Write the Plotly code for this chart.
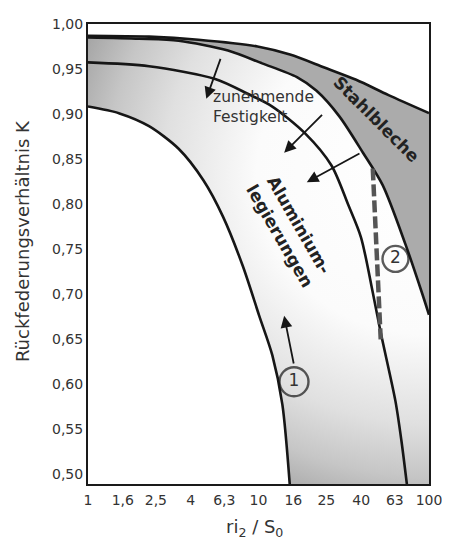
import numpy as np
import plotly.graph_objects as go

# ---------------- data ----------------
x_ticks = [1, 1.6, 2.5, 4, 6.3, 10, 16, 25, 40, 63, 100]
x_tick_labels = ["1", "1,6", "2,5", "4", "6,3", "10", "16", "25", "40", "63", "100"]
y_ticks = [0.50, 0.55, 0.60, 0.65, 0.70, 0.75, 0.80, 0.85, 0.90, 0.95, 1.00]

# Stahlbleche band
steel_upper_x = [1, 2.28, 4.44, 9.87, 15.3, 24.1, 37.4, 57.9, 100]
steel_upper_y = [0.987, 0.986, 0.9825, 0.975, 0.966, 0.952, 0.938, 0.921, 0.901]
steel_lower_x = [1, 2.0, 3.4, 6.62, 10.5, 16.8, 21.9, 29.8, 41.0, 53.5, 72.7, 91.1, 100]
steel_lower_y = [0.985, 0.9836, 0.9814, 0.9705, 0.9563, 0.941, 0.9258, 0.8974,
                 0.857, 0.821, 0.7555, 0.7009, 0.677]

# Aluminium band
alu_upper_x = [1, 2.28, 5.57, 8.64, 12.05, 18.7, 26.8, 33.6, 39.9, 46.9, 52.1, 63.6, 68.9, 74.6]
alu_upper_y = [0.9574, 0.9531, 0.9389, 0.9225, 0.9083, 0.8788, 0.8428, 0.7991,
               0.7631, 0.7009, 0.6572, 0.5808, 0.5371, 0.485]
alu_lower_x = [1, 1.53, 2.28, 3.40, 4.75, 6.19, 8.08, 10.1, 12.05, 13.8, 15.3]
alu_lower_y = [0.9083, 0.9007, 0.8865, 0.8614, 0.8264, 0.786, 0.7314, 0.6758,
               0.6321, 0.5775, 0.485]

# marker line (2) and numbered circles
dash_x = [46.8, 52.1]
dash_y = [0.8395, 0.6496]
circle_x = [16.15, 63.6]
circle_y = [0.6026, 0.7391]
circle_labels = ["1", "2"]

# arrows: tail -> head
arrow_tail_x = [6.03, 24.07, 39.9, 16.15]
arrow_tail_y = [0.9629, 0.9007, 0.857, 0.6212]
arrow_head_x = [4.94, 14.14, 19.2, 14.14]
arrow_head_y = [0.917, 0.857, 0.8242, 0.6758]

# ---------------- styling constants ----------------
FONT = "DejaVu Sans"
LINE_COL = "#161616"
LINE_W = 2.6
Y_RANGE = [0.489, 1.0]
# invisible extension of the gradient polygon (outside the plot area) to place the radial centre
G_LEFT, G_RIGHT, G_TOP, G_BOTTOM = 0.603, 14900, 1.225, 0.4389

fig = go.Figure()

# gradient-filled region (below steel band, above lower aluminium curve)
gx = (alu_lower_x + [alu_lower_x[-1], G_RIGHT, G_RIGHT, 100]
      + steel_lower_x[::-1] + [0.9, G_LEFT, G_LEFT])
gy = (alu_lower_y + [G_BOTTOM, G_BOTTOM, steel_lower_y[-1], steel_lower_y[-1]]
      + steel_lower_y[::-1] + [G_TOP, G_TOP, alu_lower_y[0]])
fig.add_trace(go.Scatter(
    x=gx, y=gy, mode="lines", fill="toself", line=dict(width=0, simplify=False),
    fillgradient=dict(type="radial",
                      colorscale=[[0, "#ffffff"], [0.45, "#fbfbfb"], [0.7, "#e0e0e0"],
                                  [0.85, "#c6c6c6"], [1, "#a0a0a0"]]),
    hoverinfo="skip", showlegend=False))

# steel band solid fill
sx = steel_upper_x + [100] + steel_lower_x[::-1]
sy = steel_upper_y + [steel_lower_y[-1]] + steel_lower_y[::-1]
fig.add_trace(go.Scatter(x=sx, y=sy, mode="lines", fill="toself", fillcolor="#ababab",
                         line=dict(width=0), hoverinfo="skip", showlegend=False))

# boundary curves
for cx, cy in [(steel_upper_x, steel_upper_y), (steel_lower_x, steel_lower_y),
               (alu_upper_x, alu_upper_y), (alu_lower_x, alu_lower_y)]:
    fig.add_trace(go.Scatter(x=cx, y=cy, mode="lines",
                             line=dict(color=LINE_COL, width=LINE_W, shape="spline", smoothing=0.8),
                             hoverinfo="skip", showlegend=False))

# dashed marker line
fig.add_trace(go.Scatter(x=dash_x, y=dash_y, mode="lines",
                         line=dict(color="#555555", width=4.5, dash="12px,4px"),
                         hoverinfo="skip", showlegend=False))

# numbered circles
fig.add_trace(go.Scatter(
    x=circle_x, y=circle_y, mode="markers+text", text=circle_labels,
    textposition="middle center", textfont=dict(family=FONT, size=17, color="#333333"),
    marker=dict(symbol="circle-open", size=[29, 26], color=LINE_COL, line=dict(width=2.4)),
    hoverinfo="skip", showlegend=False))

annotations = []
for tx, ty, hx, hy in zip(arrow_tail_x, arrow_tail_y, arrow_head_x, arrow_head_y):
    annotations.append(dict(
        x=np.log10(hx), y=hy, ax=np.log10(tx), ay=ty, xref="x", yref="y",
        axref="x", ayref="y", text="", showarrow=True, arrowhead=2,
        arrowsize=1.3, arrowwidth=1.8, arrowcolor=LINE_COL, standoff=0, startstandoff=0))

annotations += [
    dict(x=np.log10(5.28), y=0.9078, xref="x", yref="y", xanchor="left", yanchor="middle",
         text="zunehmende<br>Festigkeit", showarrow=False, align="left",
         font=dict(family=FONT, size=15.5, color="#333333")),
    dict(x=np.log10(49.0), y=0.8945, xref="x", yref="y", text="<b>Stahlbleche</b>",
         showarrow=False, textangle=45, font=dict(family=FONT, size=17, color="#222222")),
    dict(x=np.log10(15.3), y=0.7705, xref="x", yref="y",
         text="<b>Aluminium-<br>legierungen</b>", showarrow=False, textangle=60,
         font=dict(family=FONT, size=17, color="#222222")),
    dict(x=0, y=0.528, xref="paper", yref="paper", xshift=-66, xanchor="center",
         yanchor="middle", text="Rückfederungsverhältnis K",
         textangle=-90, showarrow=False, font=dict(family=FONT, size=18, color="#333333")),
    dict(x=0.5, y=0, xref="paper", yref="paper", yshift=-44, xshift=-4,
         xanchor="center", yanchor="middle",
         text="ri<sub>2</sub> / S<sub>0</sub>", showarrow=False,
         font=dict(family=FONT, size=18, color="#333333")),
]

# page body has an 8px margin, so the figure is 8px smaller than the window
fig.update_layout(
    width=442, height=533,
    margin=dict(l=80, r=16, t=8, b=57),
    paper_bgcolor="white", plot_bgcolor="white",
    separators=", ",
    font=dict(family=FONT, size=14, color="#333333"),
    annotations=annotations,
    showlegend=False,
)
fig.update_xaxes(type="log", range=[0, 2], tickvals=x_ticks, ticktext=x_tick_labels,
                 showgrid=False, zeroline=False, ticks="", showline=True, linecolor="#1a1a1a",
                 linewidth=2, mirror=True, ticklabelstandoff=2,
                 tickfont=dict(family=FONT, size=14, color="#333333"))
fig.update_yaxes(range=Y_RANGE, tickvals=y_ticks, tickformat=".2f",
                 showgrid=False, zeroline=False, ticks="", showline=True, linecolor="#1a1a1a",
                 linewidth=2, mirror=True,
                 tickfont=dict(family=FONT, size=14, color="#333333"))

fig.write_html("out.html")
